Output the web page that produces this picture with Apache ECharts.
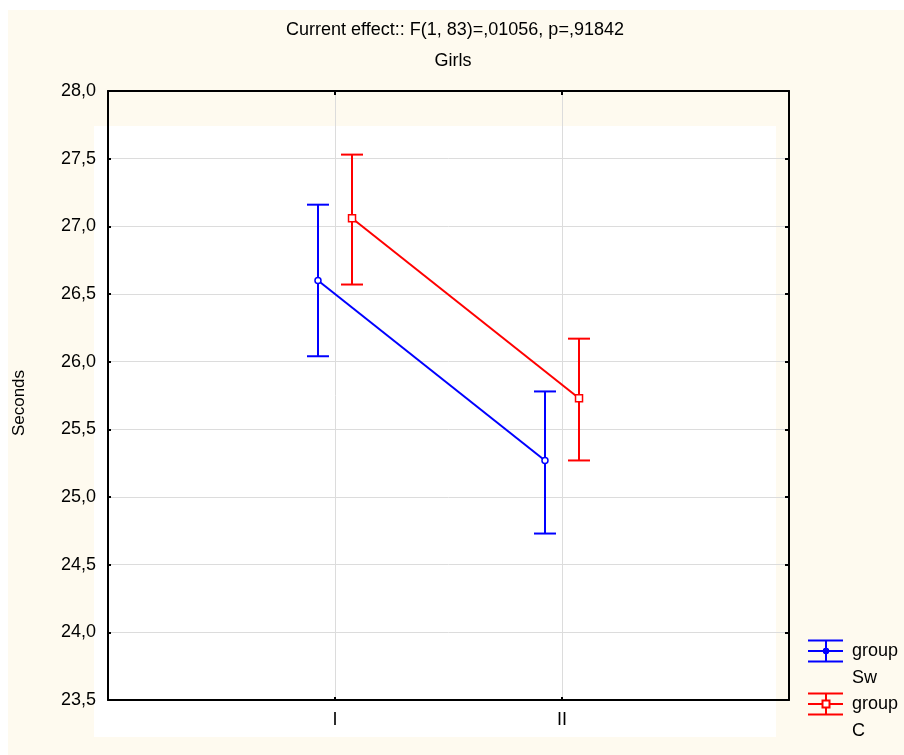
<!DOCTYPE html>
<html>
<head>
<meta charset="utf-8">
<script src="https://cdn.jsdelivr.net/npm/echarts@6/dist/echarts.min.js"></script>
<style>
  html, body { margin: 0; padding: 0; background: #ffffff; }
  #chart { width: 904px; height: 755px; }
</style>
</head>
<body>
<div id="chart"></div>
<script>
// Level labels along the x axis (placed at x = 1, 2)
const levels = ['I', 'II'];
// Group names and colours
const groups = ['Sw', 'C'];
const groupColors = ['#0000ff', '#ff0000'];
// Horizontal shift of each group around its level, in axis units
const groupOffsets = [-0.075, 0.075];
// Means and 95% interval bounds, one entry per level
const meanSw  = [26.60, 25.27];
const lowerSw = [26.04, 24.73];
const upperSw = [27.16, 25.78];
const meanC   = [27.06, 25.73];
const lowerC  = [26.57, 25.27];
const upperC  = [27.53, 26.17];
// Y-axis ticks
const yMin = 23.5, yMax = 28.0, yStep = 0.5;

const means = [meanSw, meanC];
const lowers = [lowerSw, lowerC];
const uppers = [upperSw, upperC];

const FONT = 'Liberation Sans, Arial, sans-serif';
const FS = 18;
const chart = echarts.init(document.getElementById('chart'), null, { renderer: 'canvas' });

const series = [];
groups.forEach((g, gi) => {
  const color = groupColors[gi];
  // error bars
  series.push({
    type: 'custom',
    name: 'err' + g,
    z: 3,
    data: levels.map((l, li) => [li + 1 + groupOffsets[gi], lowers[gi][li], uppers[gi][li]]),
    renderItem: function (params, api) {
      const x = api.value(0);
      const lo = api.coord([x, api.value(1)]);
      const hi = api.coord([x, api.value(2)]);
      const hw = 11;
      const st = { stroke: color, lineWidth: 2 };
      return {
        type: 'group',
        children: [
          { type: 'line', shape: { x1: lo[0], y1: lo[1], x2: hi[0], y2: hi[1] }, style: st },
          { type: 'line', shape: { x1: lo[0] - hw, y1: lo[1], x2: lo[0] + hw, y2: lo[1] }, style: st },
          { type: 'line', shape: { x1: hi[0] - hw, y1: hi[1], x2: hi[0] + hw, y2: hi[1] }, style: st }
        ]
      };
    }
  });
  // means
  series.push({
    type: 'line',
    name: 'group ' + g,
    z: 4,
    data: levels.map((l, li) => [li + 1 + groupOffsets[gi], means[gi][li]]),
    lineStyle: { color: color, width: 2 },
    itemStyle: { color: '#ffffff', borderColor: color, borderWidth: 1.5 },
    symbol: gi === 0 ? 'circle' : 'rect',
    symbolSize: gi === 0 ? 6 : 7,
    showSymbol: true,
    animation: false
  });
});

// legend drawn as small error-bar glyphs with two-line captions
const legendEls = [];
groups.forEach((g, gi) => {
  const color = groupColors[gi];
  const cy = 651 + gi * 53;
  const st = { stroke: color, lineWidth: 2 };
  legendEls.push(
    { type: 'line', shape: { x1: 808, y1: cy - 10.5, x2: 843, y2: cy - 10.5 }, style: st, z: 10 },
    { type: 'line', shape: { x1: 808, y1: cy, x2: 843, y2: cy }, style: st, z: 10 },
    { type: 'line', shape: { x1: 808, y1: cy + 10.5, x2: 843, y2: cy + 10.5 }, style: st, z: 10 },
    { type: 'line', shape: { x1: 826, y1: cy - 10.5, x2: 826, y2: cy + 10.5 }, style: st, z: 10 },
    gi === 0
      ? { type: 'circle', shape: { cx: 826, cy: cy, r: 3 }, style: { fill: color, stroke: color, lineWidth: 1 }, z: 11 }
      : { type: 'rect', shape: { x: 822.5, y: cy - 3.5, width: 7, height: 7 }, style: { fill: '#fff', stroke: color, lineWidth: 2 }, z: 11 },
    { type: 'text', x: 852, y: cy, style: { text: 'group', fill: '#000', font: FS + 'px ' + FONT, textVerticalAlign: 'middle' }, z: 10 },
    { type: 'text', x: 852, y: cy + 27, style: { text: g, fill: '#000', font: FS + 'px ' + FONT, textVerticalAlign: 'middle' }, z: 10 }
  );
});

const option = {
  backgroundColor: '#ffffff',
  animation: false,
  title: [
    { text: 'Current effect:: F(1, 83)=,01056, p=,91842', left: 450, top: 16, textAlign: 'center',
      textStyle: { fontFamily: FONT, fontSize: FS, fontWeight: 'normal', color: '#000' } },
    { text: 'Girls', left: 448, top: 47, textAlign: 'center',
      textStyle: { fontFamily: FONT, fontSize: FS, fontWeight: 'normal', color: '#000' } }
  ],
  graphic: [
    { type: 'rect', shape: { x: 8, y: 10, width: 896, height: 745 }, style: { fill: '#fefaef' }, z: -20, silent: true },
    { type: 'rect', shape: { x: 94, y: 126, width: 682, height: 611 }, style: { fill: '#ffffff' }, z: -19, silent: true },
    { type: 'text', x: 19, y: 403, rotation: Math.PI / 2, style: { text: 'Seconds', fill: '#000', font: '17px ' + FONT, textAlign: 'center', textVerticalAlign: 'middle' }, z: 10 },
    ...legendEls
  ],
  grid: { left: 108, right: 115, top: 91, bottom: 55, show: false },
  xAxis: [
    {
      type: 'value', min: 0, max: 3, interval: 1, position: 'bottom',
      axisLine: { show: true, onZero: false, lineStyle: { color: '#000', width: 2 } },
      axisTick: { show: true, inside: true, length: 3, lineStyle: { color: '#000', width: 2 } },
      axisLabel: { formatter: v => (v >= 1 && v <= levels.length && Number.isInteger(v)) ? levels[v - 1] : '',
        color: '#000', fontFamily: FONT, fontSize: FS, margin: 11 },
      splitLine: { show: true, lineStyle: { color: '#dcdcdc', width: 1 } }
    },
    {
      type: 'value', min: 0, max: 3, interval: 1, position: 'top',
      axisLine: { show: true, onZero: false, lineStyle: { color: '#000', width: 2 } },
      axisTick: { show: true, inside: true, length: 4, lineStyle: { color: '#000', width: 2 } },
      axisLabel: { show: false },
      splitLine: { show: false }
    }
  ],
  yAxis: [
    {
      type: 'value', min: yMin, max: yMax, interval: yStep, position: 'left',
      axisLine: { show: true, onZero: false, lineStyle: { color: '#000', width: 2 } },
      axisTick: { show: true, inside: true, length: 3, lineStyle: { color: '#000', width: 2 } },
      axisLabel: { formatter: v => v.toFixed(1).replace('.', ','), color: '#000', fontFamily: FONT, fontSize: FS, margin: 12 },
      splitLine: { show: true, lineStyle: { color: '#dcdcdc', width: 1 } }
    },
    {
      type: 'value', min: yMin, max: yMax, interval: yStep, position: 'right',
      axisLine: { show: true, onZero: false, lineStyle: { color: '#000', width: 2 } },
      axisTick: { show: true, inside: true, length: 4, lineStyle: { color: '#000', width: 2 } },
      axisLabel: { show: false },
      splitLine: { show: false }
    }
  ],
  series: series
};
chart.setOption(option);
</script>
</body>
</html>
